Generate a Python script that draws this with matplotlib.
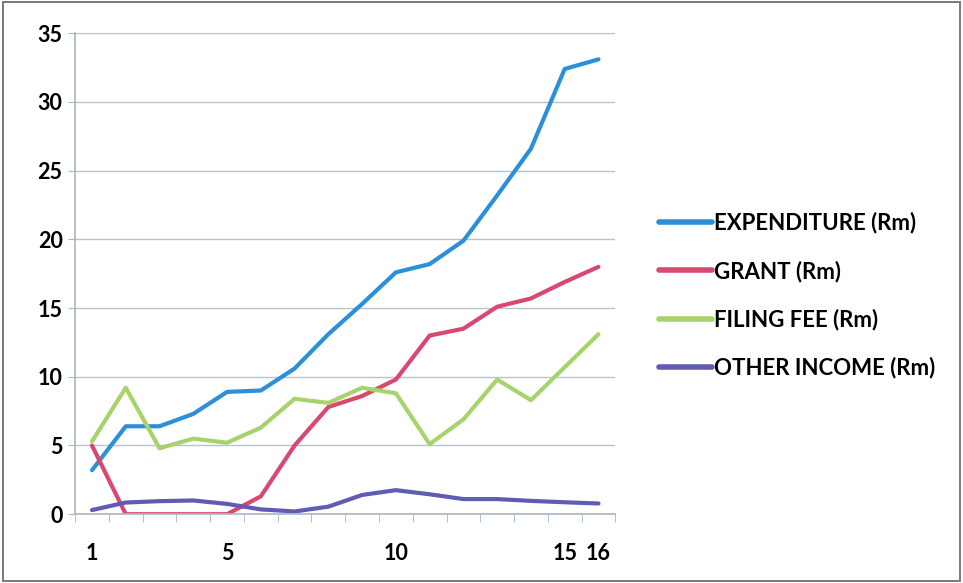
import matplotlib.pyplot as plt
from matplotlib.patches import Rectangle

# Annual figures, in millions of rand
years = list(range(1, 17))
expenditure = [3.2, 6.4, 6.4, 7.3, 8.9, 9.0, 10.6, 13.1, 15.3, 17.6, 18.2, 19.9, 23.2, 26.6, 32.4, 33.1]
grant = [5.0, 0.0, 0.0, 0.0, 0.0, 1.3, 5.0, 7.8, 8.6, 9.8, 13.0, 13.5, 15.1, 15.7, 16.9, 18.0]
filing_fee = [5.3, 9.2, 4.8, 5.5, 5.2, 6.3, 8.4, 8.1, 9.2, 8.8, 5.1, 6.9, 9.8, 8.3, 10.7, 13.1]
other_income = [0.3, 0.85, 0.95, 1.0, 0.75, 0.35, 0.2, 0.55, 1.4, 1.75, 1.45, 1.1, 1.1, 0.97, 0.87, 0.78]

series = [
    ("EXPENDITURE (Rm)", expenditure, "#2B8FD9"),
    ("GRANT (Rm)", grant, "#D9486E"),
    ("FILING FEE (Rm)", filing_fee, "#A8D36B"),
    ("OTHER INCOME (Rm)", other_income, "#5F5CB2"),
]
shown_ticks = [1, 5, 10, 15, 16]

plt.rcParams['font.family'] = ['Lato', 'DejaVu Sans']

fig = plt.figure(figsize=(9.63, 5.83), dpi=100)
fig.patches.append(Rectangle((0.003, 0.004), 0.994, 0.992, transform=fig.transFigure,
                             fill=False, edgecolor="#7a7a7a", linewidth=1.4))
ax = fig.add_axes([0.078, 0.118, 0.561, 0.825])

for label, values, color in series:
    ax.plot(years, values, color=color, linewidth=3.0, label=label,
            solid_capstyle='round', solid_joinstyle='round')

ax.set_xlim(0.5, 16.5)
ax.set_ylim(0, 35)
ax.set_yticks(range(0, 36, 5))
ax.set_xticks(shown_ticks)
ax.set_xticks([x + 0.5 for x in range(0, 17)], minor=True)
ax.tick_params(axis='x', which='major', length=0, pad=21, labelsize=15.5)
ax.tick_params(axis='x', which='minor', length=6, color="#a9b6c4", direction='out')
ax.tick_params(axis='y', length=5, color="#a9b6c4", labelsize=15.5, pad=4)
for lbl in ax.get_xticklabels() + ax.get_yticklabels():
    lbl.set_fontweight('bold')

ax.grid(axis='y', color="#b8c2cc", linewidth=1.0)
ax.set_axisbelow(True)
for side in ('top', 'right'):
    ax.spines[side].set_visible(False)
ax.spines['left'].set_color("#a9b6c4")
ax.spines['bottom'].set_color("#a9b6c4")
ax.spines['left'].set_linewidth(1.2)
ax.spines['bottom'].set_linewidth(1.2)

leg = ax.legend(loc='center left', bbox_to_anchor=(1.043, 0.455), frameon=False,
                fontsize=16, handlelength=2.4, handletextpad=0.1, labelspacing=1.2)
for text in leg.get_texts():
    text.set_fontweight('bold')
for line in leg.get_lines():
    line.set_linewidth(4)

fig.savefig("out.png", dpi=100)
